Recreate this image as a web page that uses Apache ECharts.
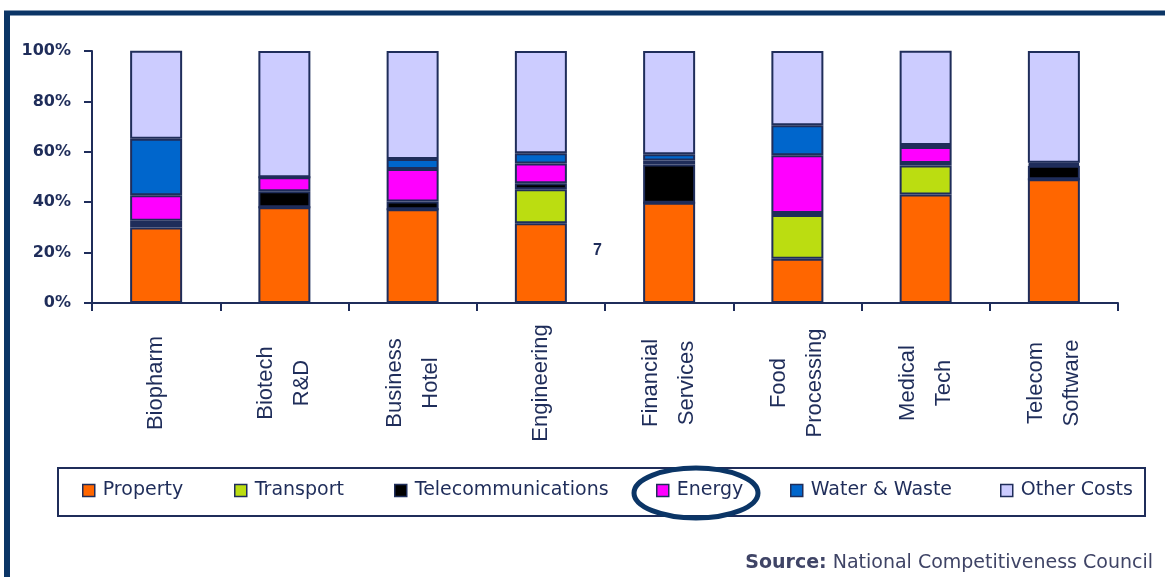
<!DOCTYPE html>
<html>
<head>
<meta charset="utf-8">
<script src="https://cdn.jsdelivr.net/npm/echarts@6/dist/echarts.min.js"></script>
<style>
    html, body { margin: 0; padding: 0; background: #fff; }
    #costChart { width: 1165px; height: 577px; }
</style>
</head>
<body>
<div id="costChart"></div>
<script>
// data (share of total cost, %)
const categories = ['Biopharm', 'Biotech\nR&D', 'Business\nHotel', 'Engineering', 'Financial\nServices', 'Food\nProcessing', 'Medical\nTech', 'Telecom\nSoftware'];
const seriesNames = ['Property', 'Transport', 'Telecommunications', 'Energy', 'Water & Waste', 'Other Costs'];
const property = [30.0, 38.0, 37.2, 31.6, 39.8, 17.6, 43.1, 49.1];
const transport = [1.3, 0, 0, 13.5, 0, 17.3, 11.5, 0];
const telecoms = [1.3, 6.3, 3.1, 2.4, 15.2, 0.8, 1.0, 5.4];
const energy = [10.2, 5.6, 12.9, 7.9, 1.5, 22.9, 6.3, 0.6];
const waterWaste = [22.4, 0, 3.9, 4.0, 2.5, 11.9, 0.8, 0.6];
const otherCosts = [34.9, 50.1, 42.9, 40.6, 41.0, 29.5, 37.4, 44.3];
const yTicks = [0, 20, 40, 60, 80, 100];

const seriesData = [property, transport, telecoms, energy, waterWaste, otherCosts];
const colors = ['#FF6600', '#BBDD11', '#000000', '#FF00FF', '#0066CC', '#CCCCFF'];
const navy = '#1F2D5A';
const frameBlue = '#0B3566';
// legend columns, like the excel legend
const legendLeft = [82, 234, 394, 656, 790, 1000];

let chartDom = document.getElementById('costChart');
let chart = echarts.init(chartDom);

let option = {
    animation: false,
    backgroundColor: '#fff',
    color: colors,
    grid: {
        left: 92,
        right: 47,
        top: 51,
        bottom: 274,
    },
    legend: seriesNames.map((name, i) => ({
        data: [name],
        left: legendLeft[i],
        top: 481,
        padding: 0,
        icon: 'rect',
        itemWidth: 12,
        itemHeight: 12,
        itemStyle: {
            borderColor: navy,
            borderWidth: 1.5,
        },
        textStyle: {
            color: navy,
            fontFamily: 'DejaVu Sans',
            fontSize: 19,
            padding: [0, 0, 0, 3],
        },
    })),
    xAxis: {
        type: 'category',
        data: categories,
        axisLine: { lineStyle: { color: navy, width: 2 } },
        axisTick: { show: true, length: 8, lineStyle: { color: navy, width: 2 } },
        axisLabel: {
            interval: 0,
            rotate: 90,
            align: 'center',
            verticalAlign: 'middle',
            margin: 80,
            lineHeight: 36,
            // bottom padding nudges the rotated block a little to the left
            padding: [0, 0, 8, 0],
            color: navy,
            fontFamily: 'Liberation Sans',
            fontSize: 22,
        },
    },
    yAxis: {
        type: 'value',
        min: yTicks[0],
        max: yTicks[yTicks.length - 1],
        interval: yTicks[1] - yTicks[0],
        axisLine: { show: true, lineStyle: { color: navy, width: 2 } },
        axisTick: { show: true, length: 8, lineStyle: { color: navy, width: 2 } },
        splitLine: { show: false },
        axisLabel: {
            formatter: '{value}%',
            margin: 21,
            color: navy,
            fontFamily: 'DejaVu Sans',
            fontWeight: 'bold',
            fontSize: 16,
        },
    },
    series: seriesNames.map((name, i) => ({
        name: name,
        type: 'bar',
        stack: 'cost',
        barWidth: 52,
        data: seriesData[i],
        itemStyle: {
            color: colors[i],
            borderColor: navy,
            borderWidth: 2,
        },
    })),
    graphic: [
        // page frame
        { type: 'line', shape: { x1: 4, y1: 13, x2: 1165, y2: 13 }, style: { stroke: frameBlue, lineWidth: 5 } },
        { type: 'line', shape: { x1: 7, y1: 11, x2: 7, y2: 577 }, style: { stroke: frameBlue, lineWidth: 6 } },
        // legend box
        { type: 'rect', shape: { x: 58, y: 468, width: 1087, height: 48 }, style: { fill: 'none', stroke: navy, lineWidth: 2 }, z: 1 },
        // circle round Energy
        { type: 'ellipse', shape: { cx: 696, cy: 493, rx: 62, ry: 25 }, style: { fill: 'none', stroke: frameBlue, lineWidth: 5 }, z: 100 },
        // stray page number
        { type: 'text', left: 593, top: 243, style: { text: '7', fill: navy, font: 'bold 16px "Liberation Sans"' } },
        {
            type: 'text', right: 12, top: 554,
            style: {
                text: '{b|Source:} National Competitiveness Council',
                fill: '#3F4466',
                font: '19px "DejaVu Sans"',
                rich: { b: { fontWeight: 'bold', fontFamily: 'DejaVu Sans', fontSize: 19, fill: '#3F4466' } },
            },
        },
    ],
};

chart.setOption(option);
</script>
</body>
</html>
